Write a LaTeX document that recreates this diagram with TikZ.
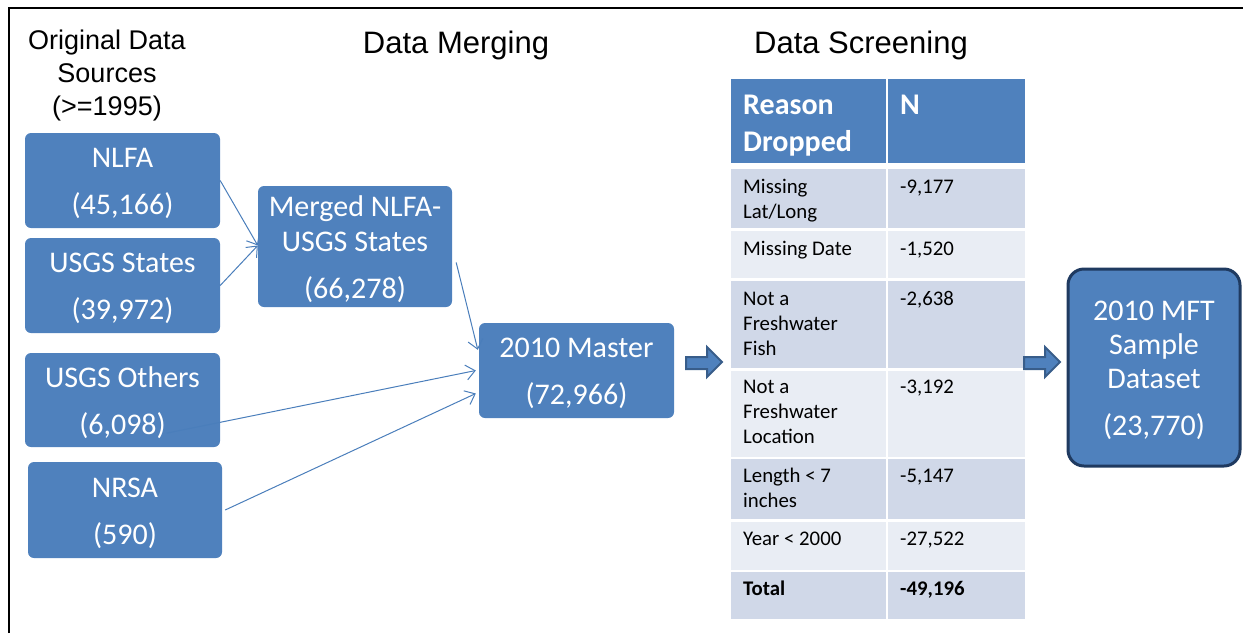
\documentclass[tikz,border=0pt]{standalone}
\usepackage{fontspec}
\setmainfont{Carlito}
\newfontfamily\hdfont{Liberation Sans}
\usetikzlibrary{arrows.meta}
\definecolor{boxblue}{HTML}{4F81BD}
\definecolor{lineblue}{HTML}{4A7EBB}
\definecolor{darkedge}{HTML}{385D8A}
\definecolor{navy}{HTML}{1F3A60}
\definecolor{rowdark}{HTML}{D0D8E8}
\definecolor{rowlight}{HTML}{E9EDF4}
\newcommand{\tstrut}{\rule{0pt}{26pt}}
\tikzset{
  srcbox/.style={fill=boxblue, rounded corners=6pt, text=white, align=center, inner sep=0pt,
     font=\fontsize{30}{47}\selectfont},
  finalbox/.style={fill=boxblue, draw=navy, line width=3pt, rounded corners=16pt, text=white, align=center, inner sep=0pt,
     font=\fontsize{30}{34}\selectfont},
  header/.style={font=\hdfont\fontsize{31}{36}\selectfont, align=center, inner sep=0pt},
  conn/.style={draw=lineblue, line width=1pt, -{Straight Barb[length=9pt,width=15pt]}},
  blockarrow/.style={fill=boxblue, draw=darkedge, line width=2pt, line join=miter},
  cell/.style={anchor=north west, inner sep=0pt, align=left, font=\fontsize{20.8}{25}\selectfont},
  hcell/.style={anchor=north west, inner sep=0pt, align=left, text=white, font=\bfseries\fontsize{30}{37}\selectfont},
}
\begin{document}
\begin{tikzpicture}[x=1pt,y=-1pt]
\useasboundingbox (0,0) rectangle (1243,633);
% frame
\draw[line width=2pt] (9,633) -- (9,8) -- (1243,8);

% headers
\node[header, font=\hdfont\fontsize{27}{33}\selectfont] (hsrc) at (107,76) {Original Data\\Sources\\(>=1995)};
\node[header] (hmerge) at (456,45) {Data Merging};
\node[header] (hscreen) at (861,45) {Data Screening};

% source boxes
\node[srcbox, minimum width=195pt, minimum height=95pt] (nlfa) at (122.5,180.5) {\tstrut NLFA\\(45,166)};
\node[srcbox, minimum width=195pt, minimum height=95pt] (usgss) at (122.5,285.5) {\tstrut USGS States\\(39,972)};
\node[srcbox, minimum width=195pt, minimum height=94pt] (usgso) at (122.5,400) {\tstrut USGS Others\\(6,098)};
\node[srcbox, minimum width=194pt, minimum height=96pt] (nrsa) at (125,510) {\tstrut NRSA\\(590)};
\node[srcbox, minimum width=194pt, minimum height=121pt, font=\fontsize{30}{35}\selectfont] (merged) at (355,246.5) {\tstrut Merged NLFA-\\USGS States\\[12pt](66,278)};
\node[srcbox, minimum width=195pt, minimum height=95pt] (master) at (576.5,370.5) {\tstrut 2010 Master\\(72,966)};
\node[finalbox, minimum width=172pt, minimum height=197pt] (final) at (1154,367.5) {\tstrut 2010 MFT\\Sample\\Dataset\\[13pt](23,770)};

% connectors
\draw[conn] (nlfa.east) -- ([yshift=1pt]merged.west);
\draw[conn] (usgss.east) -- ([yshift=1pt]merged.west);
\draw[conn] ([shift={(4pt,-16pt)}]merged.east) -- ([shift={(-1pt,-27pt)}]master.north west);
\draw[conn] ([shift={(44pt,14pt)}]usgso.south) -- ([xshift=-3pt]master.west);
\draw[conn] ([xshift=3pt]nrsa.east) -- ([shift={(-3pt,-23pt)}]master.west);

% table backgrounds
\fill[boxblue] (731,79) rectangle (886,163);
\fill[boxblue] (888,79) rectangle (1025,163);
\foreach \ya/\yb/\c in {169/228/rowdark, 231/278/rowlight, 281/368/rowdark, 371/457/rowlight, 459/519/rowdark, 522/570/rowlight, 572/619/rowdark}{
  \fill[\c] (731,\ya) rectangle (886,\yb);
  \fill[\c] (888,\ya) rectangle (1025,\yb);
}
% table text
\node[hcell] (hreason) at (743,91) {\rule{0pt}{23pt}Reason\\Dropped};
\node[hcell] (hn) at (900,91) {\rule{0pt}{23pt}N};
\node[cell] (r1a) at (743,178) {\rule{0pt}{15pt}Missing\\Lat/Long};
\node[cell] (r1b) at (900,178) {\rule{0pt}{15pt}-9,177};
\node[cell] (r2a) at (743,240) {\rule{0pt}{15pt}Missing Date};
\node[cell] (r2b) at (900,240) {\rule{0pt}{15pt}-1,520};
\node[cell] (r3a) at (743,290) {\rule{0pt}{15pt}Not a\\Freshwater\\Fish};
\node[cell] (r3b) at (900,290) {\rule{0pt}{15pt}-2,638};
\node[cell] (r4a) at (743,378) {\rule{0pt}{15pt}Not a\\Freshwater\\Location};
\node[cell] (r4b) at (900,378) {\rule{0pt}{15pt}-3,192};
\node[cell] (r5a) at (743,467) {\rule{0pt}{15pt}Length < 7\\inches};
\node[cell] (r5b) at (900,467) {\rule{0pt}{15pt}-5,147};
\node[cell] (r6a) at (743,530) {\rule{0pt}{15pt}Year < 2000};
\node[cell] (r6b) at (900,530) {\rule{0pt}{15pt}-27,522};
\node[cell, font=\bfseries\fontsize{20.8}{25}\selectfont] (r7a) at (743,580) {\rule{0pt}{15pt}Total};
\node[cell, font=\bfseries\fontsize{20.8}{25}\selectfont] (r7b) at (900,580) {\rule{0pt}{15pt}-49,196};

% block arrows
\draw[blockarrow] (686,357) -- (707,357) -- (707,347) -- (722,362) -- (707,377) -- (707,369) -- (686,369) -- cycle;
\draw[blockarrow] (1024,357) -- (1045,357) -- (1045,347) -- (1060,362) -- (1045,377) -- (1045,369) -- (1024,369) -- cycle;
\end{tikzpicture}
\end{document}
